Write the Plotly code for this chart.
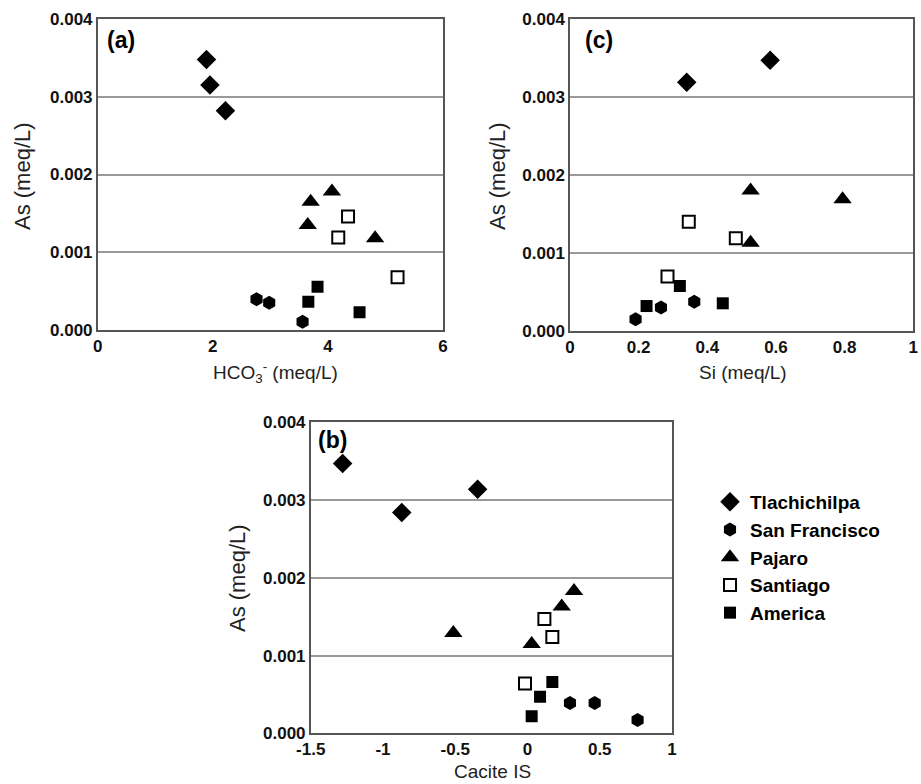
import plotly.graph_objects as go

W, H = 921, 784

series = ["Tlachichilpa", "San Francisco", "Pajaro", "Santiago", "America"]

# Panel (a): HCO3- vs As
a_x = {
    "Tlachichilpa": [1.89, 1.95, 2.22],
    "San Francisco": [2.76, 2.98, 3.56],
    "Pajaro": [3.70, 3.65, 4.07, 4.82],
    "Santiago": [4.35, 4.18, 5.21],
    "America": [3.82, 3.66, 4.55],
}
a_y = {
    "Tlachichilpa": [0.00348, 0.00315, 0.00282],
    "San Francisco": [0.000395, 0.000351, 0.000107],
    "Pajaro": [0.00165, 0.00135, 0.00178, 0.00118],
    "Santiago": [0.00146, 0.00119, 0.00068],
    "America": [0.000557, 0.000364, 0.000228],
}

# Panel (c): Si vs As
c_x = {
    "Tlachichilpa": [0.340, 0.583],
    "San Francisco": [0.191, 0.265, 0.362],
    "Pajaro": [0.526, 0.794, 0.526],
    "Santiago": [0.346, 0.483, 0.284],
    "America": [0.223, 0.320, 0.445],
}
c_y = {
    "Tlachichilpa": [0.00319, 0.00347],
    "San Francisco": [0.00015, 0.00030, 0.000376],
    "Pajaro": [0.00180, 0.00169, 0.00113],
    "Santiago": [0.00140, 0.00119, 0.00070],
    "America": [0.00032, 0.000577, 0.000355],
}

# Panel (b): Calcite IS vs As
b_x = {
    "Tlachichilpa": [-1.279, -0.87, -0.345],
    "San Francisco": [0.294, 0.465, 0.762],
    "Pajaro": [-0.513, 0.029, 0.237, 0.322],
    "Santiago": [0.117, 0.172, -0.017],
    "America": [0.029, 0.087, 0.172],
}
b_y = {
    "Tlachichilpa": [0.00347, 0.00284, 0.00314],
    "San Francisco": [0.00039, 0.00039, 0.00017],
    "Pajaro": [0.00129, 0.00115, 0.00163, 0.00183],
    "Santiago": [0.00147, 0.00124, 0.00064],
    "America": [0.00022, 0.00047, 0.00066],
}

y_ticks = [0, 0.001, 0.002, 0.003, 0.004]
a_xticks = [0, 2, 4, 6]
c_xticks = [0, 0.2, 0.4, 0.6, 0.8, 1]
b_xticks = [-1.5, -1, -0.5, 0, 0.5, 1]

symbols = {
    "Tlachichilpa": dict(symbol="diamond", size=15, color="black"),
    "San Francisco": dict(symbol="hexagon", size=14, color="black"),
    "Pajaro": dict(symbol="triangle-up", size=16, color="black"),
    "Santiago": dict(symbol="square-open", size=12, color="black", line=dict(width=2, color="black")),
    "America": dict(symbol="square", size=12, color="black"),
}

fig = go.Figure()

panels = [
    ("x", "y", a_x, a_y),
    ("x2", "y2", c_x, c_y),
    ("x3", "y3", b_x, b_y),
]
for i, (xa, ya, dx, dy) in enumerate(panels):
    for s in series:
        fig.add_trace(go.Scatter(
            x=dx[s], y=dy[s], mode="markers", name=s,
            marker=symbols[s], xaxis=xa, yaxis=ya,
            showlegend=(i == 0), legendgroup=s,
        ))

def px_x(v):
    return v / W

def px_y(v):
    return 1 - v / H

tickfont = dict(family="Arial, Liberation Sans", size=17, color="#111", weight="bold")
ax_common = dict(showline=True, linecolor="#555", linewidth=1.5, mirror=True,
                 ticks="", zeroline=False, tickfont=tickfont, automargin=False)

fig.update_layout(
    width=W, height=H,
    margin=dict(l=0, r=0, t=0, b=0, autoexpand=False),
    plot_bgcolor="white", paper_bgcolor="white",
    font=dict(family="Arial, Liberation Sans", color="black"),
    xaxis=dict(domain=[px_x(97.7), px_x(443)], range=[0, 6], tickvals=a_xticks,
               showgrid=False, anchor="y", **ax_common),
    yaxis=dict(domain=[px_y(330), px_y(19)], range=[0, 0.004], tickvals=y_ticks,
               tickformat=".3f", showgrid=True, gridcolor="#999", gridwidth=1.5,
               anchor="x", **ax_common),
    xaxis2=dict(domain=[px_x(570), px_x(913.3)], range=[0, 1], tickvals=c_xticks,
                ticktext=["0", "0.2", "0.4", "0.6", "0.8", "1"],
                showgrid=False, anchor="y2", **ax_common),
    yaxis2=dict(domain=[px_y(331), px_y(19)], range=[0, 0.004], tickvals=y_ticks,
                tickformat=".3f", showgrid=True, gridcolor="#999", gridwidth=1.5,
                anchor="x2", **ax_common),
    xaxis3=dict(domain=[px_x(310.7), px_x(672)], range=[-1.5, 1], tickvals=b_xticks,
                ticktext=["-1.5", "-1", "-0.5", "0", "0.5", "1"],
                showgrid=False, anchor="y3", **ax_common),
    yaxis3=dict(domain=[px_y(733.3), px_y(422.3)], range=[0, 0.004], tickvals=y_ticks,
                tickformat=".3f", showgrid=True, gridcolor="#999", gridwidth=1.5,
                anchor="x3", **ax_common),
    legend=dict(x=px_x(710), y=px_y(483), xanchor="left", yanchor="top",
                font=dict(family="Arial, Liberation Sans", size=19, color="black", weight="bold"),
                tracegroupgap=0, bgcolor="rgba(0,0,0,0)", itemwidth=30),
)

title_font = dict(family="Arial, Liberation Sans", size=22, color="#222")
xt_font = dict(family="Arial, Liberation Sans", size=19, color="#222")
lab_font = dict(family="Arial, Liberation Sans", size=23, color="black")
annots = [
    dict(text="As (meq/L)", x=px_x(22), y=px_y(176), textangle=-90, font=title_font),
    dict(text="As (meq/L)", x=px_x(497), y=px_y(176), textangle=-90, font=title_font),
    dict(text="As (meq/L)", x=px_x(237), y=px_y(578), textangle=-90, font=title_font),
    dict(text="HCO<sub>3</sub><sup>-</sup> (meq/L)", x=px_x(275), y=px_y(373), font=xt_font),
    dict(text="Si (meq/L)", x=px_x(743), y=px_y(373), font=xt_font),
    dict(text="Cacite IS", x=px_x(492), y=px_y(771), font=xt_font),
    dict(text="<b>(a)</b>", x=px_x(121), y=px_y(40), font=lab_font),
    dict(text="<b>(c)</b>", x=px_x(599), y=px_y(40), font=lab_font),
    dict(text="<b>(b)</b>", x=px_x(332), y=px_y(440), font=lab_font),
]
for an in annots:
    an.update(xref="paper", yref="paper", showarrow=False, xanchor="center", yanchor="middle")
    fig.add_annotation(**an)

fig.write_html("out.html")
